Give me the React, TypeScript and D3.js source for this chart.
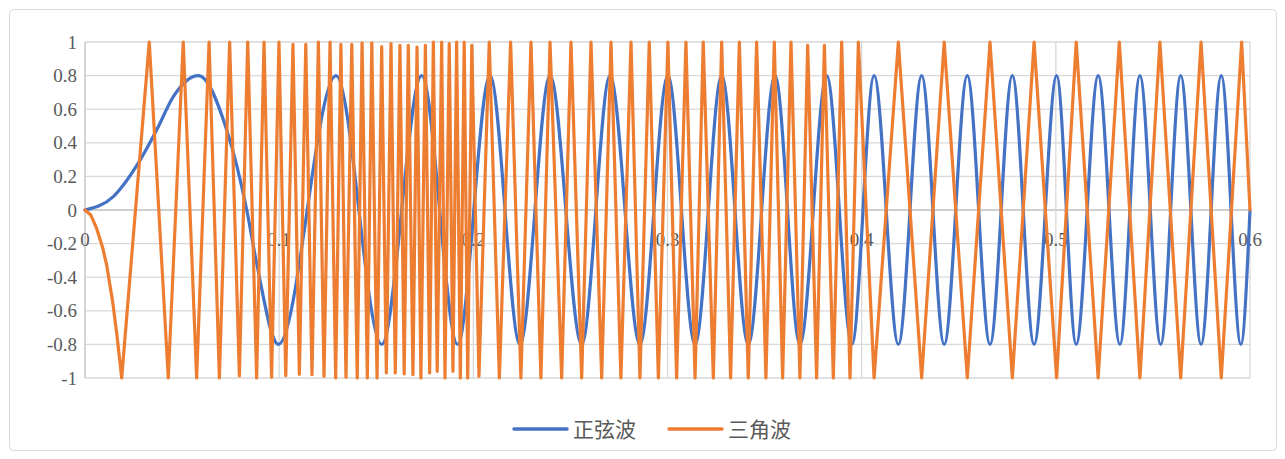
import React from "react";
import * as d3 from "d3";

const xTicks = [0, 0.1, 0.2, 0.3, 0.4, 0.5, 0.6];
const xTickLabels = ["0", "0.1", "0.2", "0.3", "0.4", "0.5", "0.6"];
const yTicks = [1, 0.8, 0.6, 0.4, 0.2, 0, -0.2, -0.4, -0.6, -0.8, -1];
const yTickLabels = ["1", "0.8", "0.6", "0.4", "0.2", "0", "-0.2", "-0.4", "-0.6", "-0.8", "-1"];
const seriesNames = ["正弦波", "三角波"];

// 正弦波 (sine): start, read points on the first rise/fall, then extrema
const sineX = [
  0, 0.0146, 0.0275, 0.0369, 0.0455, 0.0584, 0.073, 0.0833, 0.0884, 0.0996,
  0.1293, 0.1528, 0.1734, 0.1919, 0.2086, 0.224, 0.2395, 0.2558, 0.2704, 0.2858,
  0.3002, 0.3142, 0.3279, 0.3416, 0.3554, 0.3682, 0.382, 0.395, 0.4064, 0.4189,
  0.4309, 0.4425, 0.4544, 0.4661, 0.4776, 0.4888, 0.5004, 0.5105, 0.5218, 0.533,
  0.5433, 0.554, 0.5643, 0.5748, 0.5852, 0.5953, 0.6,
];
const sineY = [
  0, 0.08, 0.28, 0.476, 0.675, 0.8, 0.476, 0, -0.317, -0.8,
  0.8, -0.8, 0.8, -0.8, 0.8, -0.8, 0.8, -0.8, 0.8, -0.8,
  0.8, -0.8, 0.8, -0.8, 0.8, -0.8, 0.8, -0.8, 0.8, -0.8,
  0.8, -0.8, 0.8, -0.8, 0.8, -0.8, 0.8, -0.8, 0.8, -0.8,
  0.8, -0.8, 0.8, -0.8, 0.8, -0.8, 0,
];

// 三角波 (triangle): vertices
const triX = [
  0, 0.003, 0.006, 0.009, 0.0112, 0.0143, 0.0165, 0.0189,
  0.0331, 0.0429, 0.0506, 0.0575, 0.0639, 0.0692, 0.0745, 0.0795, 0.0838, 0.0884,
  0.0922, 0.0961, 0.0999, 0.1034, 0.1071, 0.1104, 0.1137, 0.1169, 0.1202, 0.1231,
  0.1262, 0.1291, 0.1318, 0.1344, 0.1374, 0.1402, 0.1427, 0.1454, 0.1477, 0.1504,
  0.1528, 0.1552, 0.1576, 0.1598, 0.1622, 0.1644, 0.1665, 0.1689, 0.171, 0.173,
  0.1753, 0.1775, 0.1794, 0.1814, 0.1837, 0.1854, 0.1876, 0.1895, 0.1914, 0.1933,
  0.1953, 0.1971, 0.1992, 0.2029, 0.2082, 0.2134, 0.2192, 0.2245, 0.2297, 0.2348,
  0.2395, 0.2455, 0.2503, 0.2558, 0.2606, 0.2661, 0.2709, 0.276, 0.2812, 0.2858,
  0.2906, 0.2953, 0.3002, 0.3047, 0.3095, 0.3142, 0.3184, 0.3236, 0.3279, 0.3325,
  0.337, 0.3416, 0.3459, 0.3507, 0.355, 0.3593, 0.3636, 0.3682, 0.3722, 0.3768,
  0.3808, 0.3854, 0.3897, 0.394, 0.3983, 0.4064, 0.4189, 0.4309, 0.4425, 0.4544,
  0.4661, 0.4776, 0.4888, 0.5004, 0.5105, 0.5218, 0.5327, 0.5433, 0.5536, 0.5643,
  0.5748, 0.5852, 0.5957, 0.6,
];
const triY = [
  0, -0.03, -0.11, -0.22, -0.33, -0.55, -0.75, -1,
  1, -1, 1, -1, 1, -1, 1, -0.988, 1, -1,
  1, -0.996, 1, -0.986, 0.986, -0.978, 0.986, -0.98, 1, -0.99,
  1, -1, 0.986, -0.995, 0.986, -1, 0.995, -1, 0.995, -1,
  0.972, -0.97, 0.99, -0.97, 0.98, -0.975, 0.98, -0.98, 0.97, -1,
  0.98, -0.97, 1, -0.96, 1, -1, 0.99, -0.96, 1, -1,
  1, -1, 0.98, -0.99, 1, -1, 1, -1, 1, -1,
  1, -1, 1, -1, 1, -1, 1, -1, 1, -1,
  1, -1, 1, -1, 1, -1, 1, -1, 1, -1,
  1, -1, 1, -1, 1, -1, 1, -1, 0.98, -1,
  0.98, -1, 1, -1, 1, -1, 1, -1, 1, -1,
  1, -1, 1, -1, 1, -1, 1, -1, 1, -1,
  1, -1, 1, 0,
];

const W = 1285;
const H = 459;
const left = 85;
const right = 1250;
const top = 42;
const bottom = 378;

export default function App() {
  const x = d3.scaleLinear().domain([0, 0.6]).range([left, right]);
  const y = d3.scaleLinear().domain([-1, 1]).range([bottom, top]);

  const sineData = sineX.map((v, i) => [v, sineY[i]] as [number, number]);
  const triData = triX.map((v, i) => [v, triY[i]] as [number, number]);

  const sineLine = d3
    .line<[number, number]>()
    .x((d) => x(d[0]))
    .y((d) => y(d[1]))
    .curve(d3.curveMonotoneX);
  const triLine = d3
    .line<[number, number]>()
    .x((d) => x(d[0]))
    .y((d) => y(d[1]))
    .curve(d3.curveLinear);

  const numStyle = { fontFamily: "Liberation Serif, Tinos, 'Times New Roman', DejaVu Serif, serif", fontSize: "19px" };
  const cjkStyle = { fontFamily: "'Noto Sans CJK SC', 'Noto Sans CJK JP', sans-serif", fontSize: "21px" };
  const colors = ["#4472C4", "#ED7D31"];

  return (
    <svg
      width={W}
      height={H}
      style={{ position: "absolute", left: 0, top: 0, background: "#fff" }}
    >
      <rect x={9.5} y={9.5} width={1267} height={441} rx={4} fill="#fff" stroke="#d9d9d9" strokeWidth={1} />
      {yTicks.map((t) => (
        <line
          key={"h" + t}
          x1={left}
          x2={right}
          y1={y(t)}
          y2={y(t)}
          stroke={t === 0 ? "#bfbfbf" : "#d9d9d9"}
          strokeWidth={1.3}
        />
      ))}
      {xTicks.map((t) => (
        <line
          key={"v" + t}
          x1={x(t)}
          x2={x(t)}
          y1={top}
          y2={bottom}
          stroke={t === 0 ? "#bfbfbf" : "#d9d9d9"}
          strokeWidth={1.3}
        />
      ))}
      {yTicks.map((t, i) => (
        <text key={"yl" + t} x={77} y={y(t) + 6.5} textAnchor="end" style={numStyle} fill="#595959">
          {yTickLabels[i]}
        </text>
      ))}
      {xTicks.map((t, i) => (
        <text key={"xl" + t} x={x(t)} y={246} textAnchor="middle" style={numStyle} fill="#595959">
          {xTickLabels[i]}
        </text>
      ))}
      <path
        d={sineLine(sineData) || ""}
        fill="none"
        stroke={colors[0]}
        strokeWidth={3.2}
        strokeLinejoin="round"
        strokeLinecap="round"
      />
      <path
        d={triLine(triData) || ""}
        fill="none"
        stroke={colors[1]}
        strokeWidth={3.2}
        strokeLinejoin="round"
        strokeLinecap="round"
      />
      <g>
        <line x1={514} x2={567} y1={429} y2={429} stroke={colors[0]} strokeWidth={3.5} strokeLinecap="round" />
        <text x={573} y={437} style={cjkStyle} fill="#595959">
          {seriesNames[0]}
        </text>
        <line x1={669} x2={722} y1={429} y2={429} stroke={colors[1]} strokeWidth={3.5} strokeLinecap="round" />
        <text x={728} y={437} style={cjkStyle} fill="#595959">
          {seriesNames[1]}
        </text>
      </g>
    </svg>
  );
}
